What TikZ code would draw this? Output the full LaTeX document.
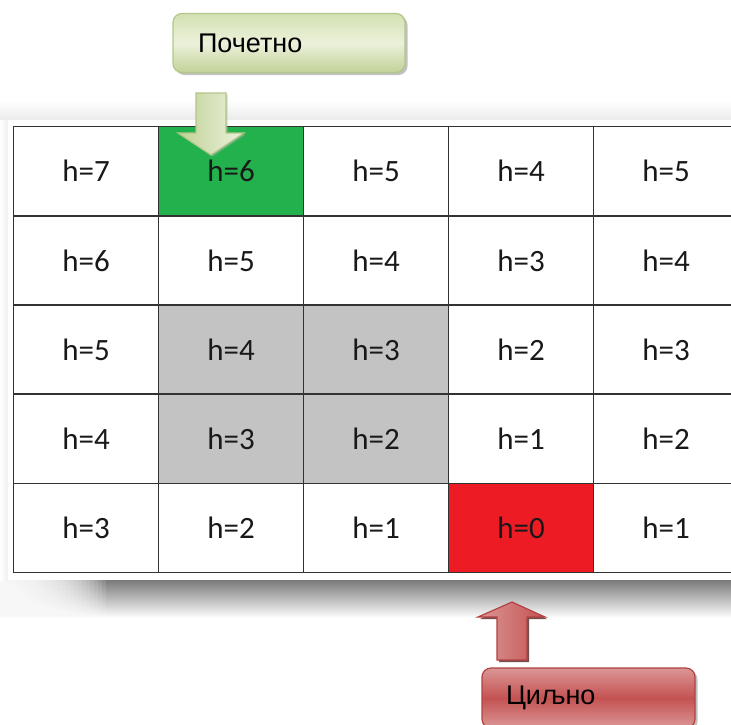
\documentclass[tikz,border=0pt]{standalone}
\usepackage{fontspec}
\setmainfont{Carlito}
\newfontfamily\arialf{Liberation Sans}
\usetikzlibrary{shadows}
\definecolor{cellgreen}{RGB}{34,177,76}
\definecolor{cellgray}{RGB}{195,195,195}
\definecolor{cellred}{RGB}{237,28,36}
\definecolor{gridline}{RGB}{50,50,50}
\definecolor{gbtop}{RGB}{210,225,178}
\definecolor{gbmid}{RGB}{236,241,219}
\definecolor{gbbot}{RGB}{192,210,152}
\definecolor{gbord}{RGB}{178,198,136}
\definecolor{rbtop}{RGB}{220,150,150}
\definecolor{rbmid}{RGB}{196,82,82}
\definecolor{rbbot}{RGB}{214,125,125}
\definecolor{rbord}{RGB}{178,66,66}
\definecolor{txt}{RGB}{25,25,25}
\tikzset{
  cellbox/.style={draw=gridline, line width=1.3pt, minimum width=145pt, minimum height=89pt, inner sep=0pt, anchor=north west, text=txt, font=\fontsize{31}{31}\selectfont},
  startbox/.style={rounded corners=9pt, draw=gbord, line width=1.2pt, top color=gbtop, bottom color=gbbot, middle color=gbmid, minimum height=59pt, text width=182pt, inner xsep=25pt, align=left, font=\arialf\fontsize{27}{27}\selectfont, text=black, drop shadow={shadow xshift=2.5pt, shadow yshift=-2.5pt, fill=black!40, opacity=0.6}},
  goalbox/.style={rounded corners=9pt, draw=rbord, line width=1.2pt, top color=rbtop, bottom color=rbtop, middle color=rbmid, minimum height=60pt, text width=165pt, inner xsep=24pt, align=left, font=\arialf\fontsize{27}{27}\selectfont, text=black, drop shadow={shadow xshift=2.5pt, shadow yshift=-2.5pt, fill=black!40, opacity=0.6}},
}
\begin{document}
\begin{tikzpicture}[x=1pt,y=-1pt]
\useasboundingbox (0,0) rectangle (731,724);
\clip (0,0) rectangle (731,724);
\fill[white] (0,0) rectangle (731,724);
% card shadows
\shade[top color=black!55, bottom color=white] (0,578) rectangle (740,618);
\foreach \i in {0,...,24}{
  \fill[white, opacity=0.12] (0,576) rectangle (10+\i*4,620);
}
\shade[top color=white, bottom color=black!8] (0,100) rectangle (740,120);
\shade[left color=white, right color=black!6] (0,120) rectangle (8,580);
\fill[white] (8,120) rectangle (740,580);
% grid
\foreach \r/\vals in {0/{7,6,5,4,5},1/{6,5,4,3,4},2/{5,4,3,2,3},3/{4,3,2,1,2},4/{3,2,1,0,1}}{
  \foreach \v [count=\c from 0] in \vals {
    \pgfmathsetmacro{\cx}{13+145*\c}
    \pgfmathsetmacro{\cy}{126+89.2*\r}
    \node[cellbox] (c-\r-\c) at (\cx,\cy) {h=\v};
  }
}
\foreach \r/\c/\col in {0/1/cellgreen,2/1/cellgray,2/2/cellgray,3/1/cellgray,3/2/cellgray,4/3/cellred}{
  \node[cellbox, fill=\col] at (c-\r-\c.north west) {h=\pgfmathparse{int(abs(\r-4)+abs(\c-3))}\pgfmathresult};
}
% start label and arrow
\node[startbox] (start) at (289,43) {Почетно};
\coordinate (gtip) at (211,155);
\shade[draw=gbord, line width=1.2pt, left color=gbbot, right color=gbmid, drop shadow={shadow xshift=1.5pt, shadow yshift=-1.5pt, fill=black!30, opacity=0.5}]
  (196,93) -- (226,93) -- (226,133) -- (244,133) -- (gtip) -- (178,133) -- (196,133) -- cycle;
% goal label and arrow
\node[goalbox] (goal) at (588.5,698) {Циљно};
\coordinate (rtip) at (512,602);
\shade[draw=rbord, line width=1.2pt, left color=rbtop, right color=rbmid, drop shadow={shadow xshift=2pt, shadow yshift=-2pt, fill=black!60!red!60!black, opacity=0.7}]
  (497,660) -- (527,660) -- (527,617) -- (545,617) -- (rtip) -- (478,617) -- (497,617) -- cycle;
\end{tikzpicture}
\end{document}
